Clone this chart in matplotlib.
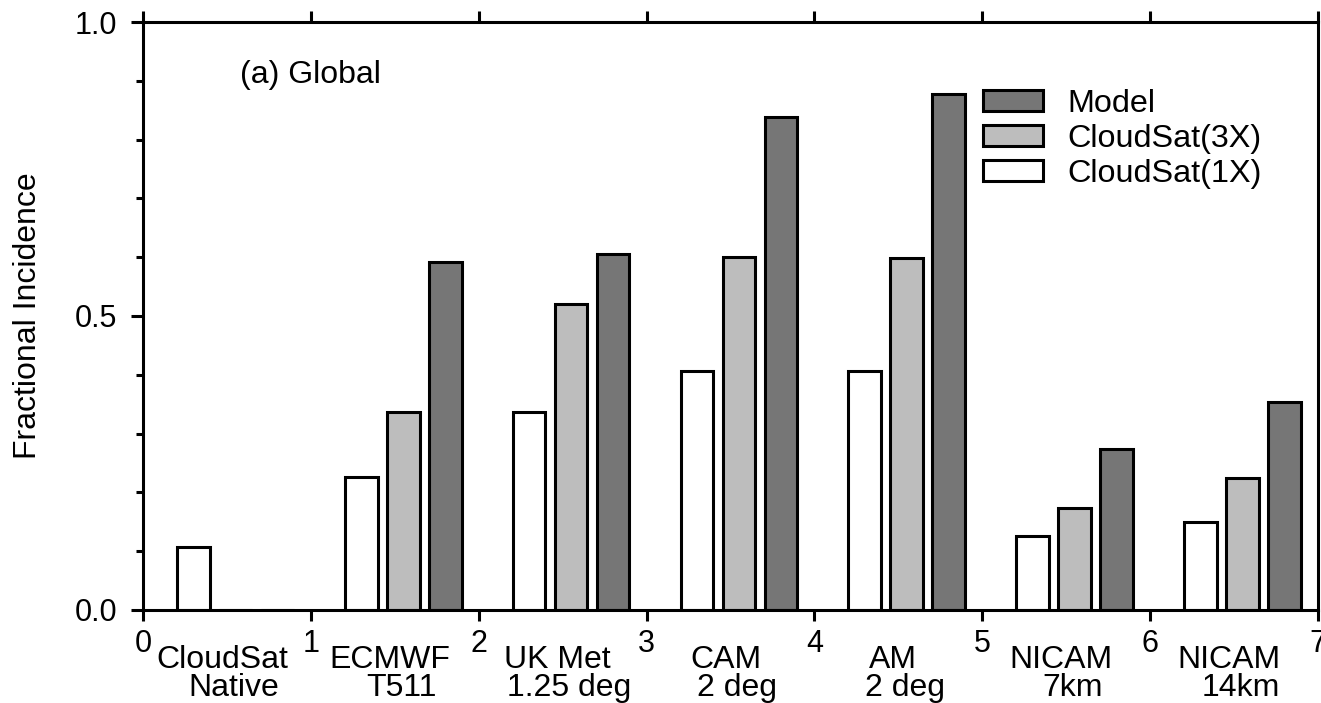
import numpy as np
import matplotlib
matplotlib.use("Agg")
from matplotlib import pyplot as plt
from matplotlib.patches import Patch

plt.rcParams['font.family'] = ['Liberation Sans', 'DejaVu Sans']

# group names, two lines each
names_top = ['CloudSat', 'ECMWF', 'UK Met', 'CAM', 'AM', 'NICAM', 'NICAM']
names_bot = ['Native', 'T511', '1.25 deg', '2 deg', '2 deg', '7km', '14km']

# fractional incidence
cs_1x = [0.107, 0.226, 0.337, 0.406, 0.406, 0.125, 0.149]
cs_3x = [0.0, 0.337, 0.520, 0.601, 0.599, 0.173, 0.224]
model = [0.0, 0.591, 0.605, 0.838, 0.878, 0.274, 0.354]

labels = ['CloudSat(1X)', 'CloudSat(3X)', 'Model']
colors = ['white', '#bdbdbd', '#767676']

fig = plt.figure(figsize=(13.21, 7.03), dpi=100)
ax = fig.add_axes([0.1083, 0.1323, 0.8894, 0.8364])

x = np.arange(len(names_top))
w = 0.195
for k, vals in enumerate([cs_1x, cs_3x, model]):
    ax.bar(x + 0.3 + 0.25 * k, vals, width=w, color=colors[k],
           edgecolor='black', linewidth=2.2, zorder=2)

ax.set_xlim(0, 7)
ax.set_ylim(0, 1)
for s in ax.spines.values():
    s.set_linewidth(2.2)

ax.set_xticks(np.arange(8))
ax.set_xticklabels([str(i) for i in range(8)], fontsize=22)
ax.tick_params(axis='x', direction='out', length=8, width=2.2, pad=6,
               top=True, bottom=True)
ax.set_yticks([0.0, 0.5, 1.0])
ax.set_yticklabels(['0.0', '0.5', '1.0'], fontsize=22)
ax.set_yticks(np.arange(0.1, 1.0, 0.1), minor=True)
ax.tick_params(axis='y', which='major', direction='out', length=8.6,
               width=2.2, pad=10)
ax.tick_params(axis='y', which='minor', direction='out', length=5, width=2.2)

for i in range(len(names_top)):
    ax.annotate(names_top[i], xy=(i + 0.47, 0), xycoords=('data', 'axes fraction'),
                xytext=(0, -42), textcoords='offset points',
                ha='center', va='baseline', fontsize=23)
    ax.annotate(names_bot[i], xy=(i + 0.54, 0), xycoords=('data', 'axes fraction'),
                xytext=(0, -62), textcoords='offset points',
                ha='center', va='baseline', fontsize=23)

ax.set_ylabel('Fractional Incidence', fontsize=23)
ax.yaxis.set_label_coords(-0.085, 0.5)

ax.text(0.0826, 0.896, '(a) Global', transform=ax.transAxes,
        fontsize=23, va='baseline', ha='left')

handles = [Patch(facecolor=colors[k], edgecolor='black', linewidth=2.2)
           for k in range(3)][::-1]
ax.legend(handles, labels[::-1], loc='upper left', bbox_to_anchor=(0.715, 0.886),
          frameon=False, fontsize=23.3, borderpad=0, borderaxespad=0,
          handlelength=1.85, handleheight=0.65, handletextpad=0.74,
          labelspacing=0.15)

plt.savefig('out.png', dpi=100)
